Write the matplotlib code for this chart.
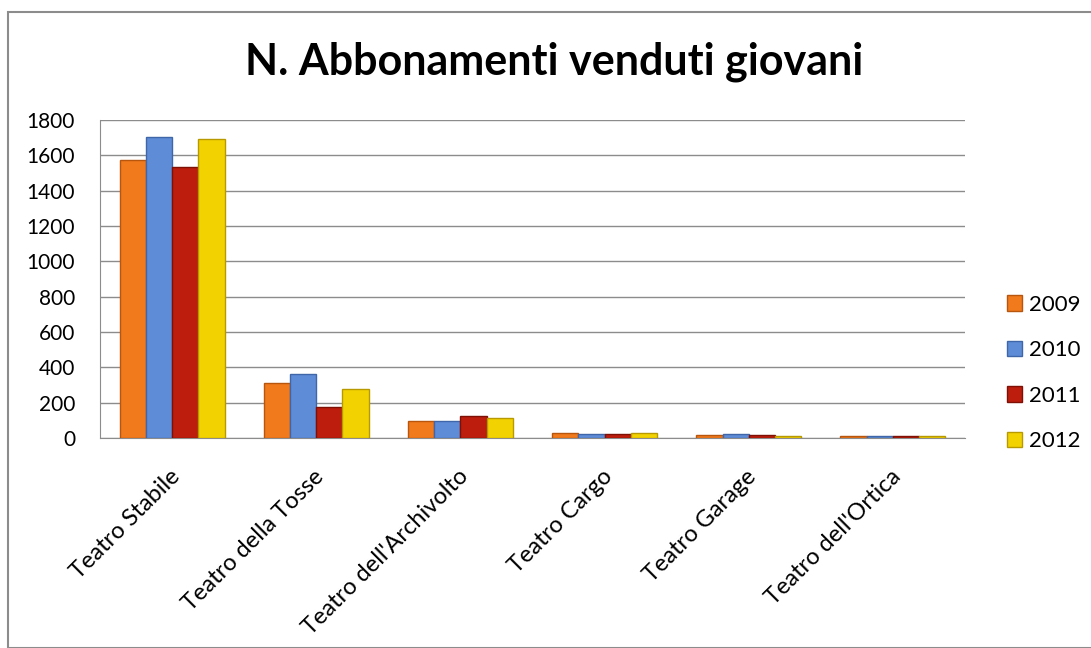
import matplotlib.pyplot as plt
import matplotlib.transforms as mtransforms
import numpy as np
from matplotlib.patches import Rectangle

teatri = ["Teatro Stabile", "Teatro della Tosse", "Teatro dell'Archivolto",
          "Teatro Cargo", "Teatro Garage", "Teatro dell'Ortica"]
anni = ["2009", "2010", "2011", "2012"]
v2009 = [1575, 314, 99, 28, 18, 10]
v2010 = [1702, 365, 99, 25, 24, 12]
v2011 = [1536, 178, 127, 20, 18, 13]
v2012 = [1693, 275, 116, 28, 12, 12]
serie = [v2009, v2010, v2011, v2012]

colori = ['#F07A1C', '#5E8CD6', '#BC1D0C', '#F2D200']
bordi = ['#B8560E', '#3E66A8', '#7E1006', '#B89A00']

plt.rcParams['font.family'] = ['Lato', 'DejaVu Sans']

fig = plt.figure(figsize=(10.91, 6.48), dpi=100)
ax = fig.add_axes([100 / 1091, 1 - 438 / 648, 865 / 1091, 318 / 648])

# cornice del grafico
fig.patches.append(Rectangle((8 / 1091, 0), 1.2, 1 - 12 / 648, transform=fig.transFigure,
                             fill=False, edgecolor='#8c8c8c', linewidth=1.5))

x = np.arange(len(teatri))
w = 0.182
for i, (vals, c, b) in enumerate(zip(serie, colori, bordi)):
    ax.bar(x + (i - 1.5) * w, vals, width=w, color=c, edgecolor=b, linewidth=1,
           label=anni[i], zorder=3)

ax.set_xlim(-0.5, len(teatri) - 0.5)
ax.set_ylim(0, 1800)
ax.set_yticks(range(0, 1801, 200))
ax.tick_params(axis='y', length=0, labelsize=15, pad=18)
ax.tick_params(axis='x', length=0, labelsize=17, pad=20)
ax.set_xticks(x)
ax.set_xticklabels(teatri, rotation=45, ha='right', rotation_mode='anchor')
sposta = mtransforms.ScaledTranslation(-0.03, 0, fig.dpi_scale_trans)
for lab in ax.get_xticklabels():
    lab.set_transform(lab.get_transform() + sposta)
ax.grid(axis='y', color='#8c8c8c', linewidth=1, zorder=0)
for s in ['top', 'right']:
    ax.spines[s].set_visible(False)
ax.spines['left'].set_color('#8c8c8c')
ax.spines['bottom'].set_color('#8c8c8c')

fig.text(0.508, 1 - 62 / 648, 'N. Abbonamenti venduti giovani', ha='center', va='center',
         fontsize=31, fontweight='bold')

fig.legend(loc='center left', bbox_to_anchor=(998 / 1091, 1 - 373 / 648), frameon=False,
           fontsize=16, handlelength=0.7, handleheight=0.7, handletextpad=0.3,
           labelspacing=1.15, borderaxespad=0)

plt.savefig('out.png', dpi=100)
